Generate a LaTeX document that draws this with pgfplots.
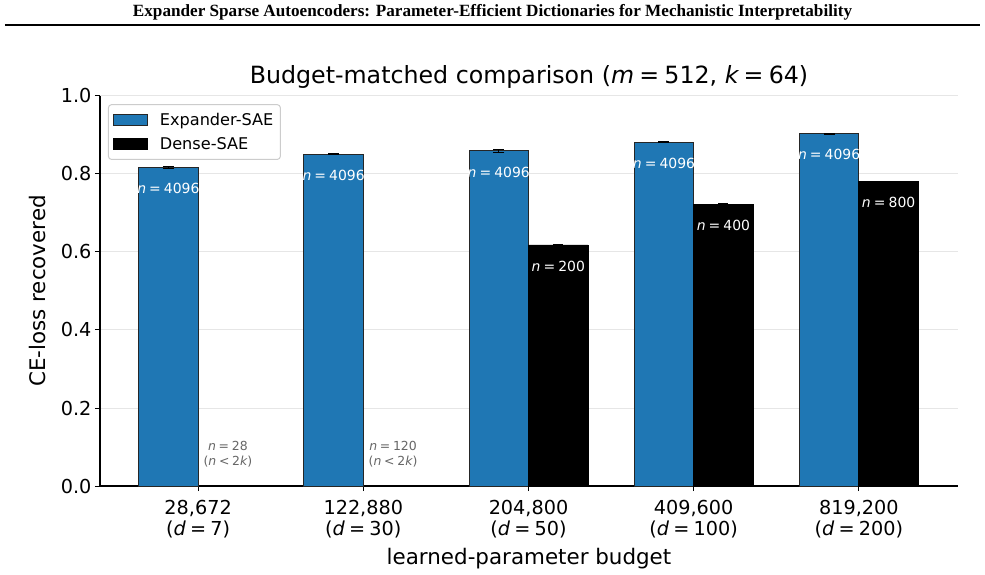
\documentclass[border=0pt]{standalone}
\usepackage{fontspec}
\setmainfont{DejaVu Sans}[ItalicFont={DejaVu Sans Oblique},BoldFont={DejaVu Sans Bold}]
\newfontfamily\headfont{Liberation Serif}[BoldFont={Liberation Serif Bold}]
\usepackage{pgfplots}
\usepackage{pgfplotstable}
\pgfplotsset{compat=1.18}

\definecolor{expblue}{HTML}{1F77B4}
\definecolor{gridgray}{HTML}{E6E6E6}
\definecolor{notegray}{HTML}{666666}
\definecolor{legframe}{HTML}{CCCCCC}

% italic variable = value, spaced like mathtext
\newcommand{\eq}[2]{{\itshape #1}\kern0.22em=\kern0.22em#2}

% CE-loss recovered per parameter budget (x = budget index)
\pgfplotstableread{
x y err
0 0.817 0.003
1 0.851 0.0015
2 0.860 0.004
3 0.881 0.0015
4 0.903 0.0015
}\expander
\pgfplotstableread{
x y err
2 0.618 0.0008
3 0.723 0.0008
4 0.780 0.0008
}\dense

\begin{document}
\begin{tikzpicture}
\useasboundingbox (-100bp,-89bp) rectangle (885bp,486bp);

% running header and rule
\node[anchor=base, inner sep=0pt] at (392.5bp,469bp)
  {\resizebox{719bp}{!}{\headfont\bfseries Expander Sparse Autoencoders: Parameter-Efficient Dictionaries for Mechanistic Interpretability}};
\draw[line width=1.6bp] (-95bp,461bp) -- (880bp,461bp);

\begin{axis}[
  at={(0,0)}, anchor=south west,
  scale only axis, width=858bp, height=390bp,
  xmin=-0.594, xmax=4.6, ymin=0, ymax=1,
  axis lines*=left,
  axis line style={line width=1.1bp, black},
  ybar, bar width=0.36,
  xtick={0,1,2,3,4},
  xticklabels={{28,672\\(\eq{d}{7})},{122,880\\(\eq{d}{30})},{204,800\\(\eq{d}{50})},{409,600\\(\eq{d}{100})},{819,200\\(\eq{d}{200})}},
  xticklabel style={align=center, font=\fontsize{19.3}{21}\selectfont, yshift=-6bp},
  ytick={0,0.2,0.4,0.6,0.8,1},
  yticklabel style={font=\fontsize{19.3}{22}\selectfont},
  /pgf/number format/assume math mode=true,
  /pgf/number format/.cd, fixed, fixed zerofill, precision=1, /pgfplots/.cd,
  tick align=outside, major tick length=5bp,
  tick style={line width=1bp, black},
  ymajorgrids, grid style={gridgray, line width=1bp},
  title={Budget-matched comparison (\eq{m}{512}, \eq{k}{64})},
  title style={at={(axis description cs:0.5,1.034)}, anchor=center, yshift=0pt, font=\fontsize{23.8}{28}\selectfont},
  xlabel={learned-parameter budget},
  xlabel style={at={(axis description cs:0.5,-0.186)}, anchor=center, font=\fontsize{21.5}{25}\selectfont},
  ylabel={CE-loss recovered},
  ylabel style={at={(axis description cs:-0.0723,0.5)}, anchor=center, font=\fontsize{21.5}{25}\selectfont},
  legend style={at={(0.0093,0.979)}, anchor=north west,
    draw=legframe, line width=1bp, rounded corners=3bp,
    fill=white, fill opacity=0.8, text opacity=1,
    font=\fontsize{16.2}{19}\selectfont,
    inner xsep=5bp, inner ysep=6.5bp, row sep=6.5bp},
  legend cell align=left,
]

\addplot[ybar, bar width=0.36, bar shift=-0.18, fill=expblue, draw=black!85, line width=0.8bp,
  legend image code/.code={
    \draw[fill=expblue, draw=black!85, line width=0.8bp, fill opacity=1, draw opacity=1, sharp corners] (0bp,-5.5bp) rectangle (34bp,5.5bp);
    \path[draw=none, fill=none] (44bp,0bp);},
  error bars/.cd, y dir=both, y explicit, error mark=|,
  error bar style={line width=1bp, black},
  error mark options={black, line width=1bp, mark size=5.5bp}]
  table[x=x, y=y, y error=err] {\expander};
\addlegendentry{Expander-SAE}

\addplot[ybar, bar width=0.36, bar shift=0.18, fill=black, draw=black, line width=0.8bp,
  legend image code/.code={
    \draw[fill=black, draw=black, line width=0.8bp, fill opacity=1, draw opacity=1, sharp corners] (0bp,-5.5bp) rectangle (34bp,5.5bp);
    \path[draw=none, fill=none] (44bp,0bp);},
  error bars/.cd, y dir=both, y explicit, error mark=|,
  error bar style={line width=1bp, black},
  error mark options={black, line width=1bp, mark size=5bp}]
  table[x=x, y=y, y error=err] {\dense};
\addlegendentry{Dense-SAE}

% dictionary sizes written inside the bars
\begin{scope}[every node/.style={white, font=\fontsize{14}{16}\selectfont, inner sep=0pt}]
\node at (axis cs:-0.18,0.763) {\eq{n}{4096}};
\node at (axis cs:0.82,0.796) {\eq{n}{4096}};
\node at (axis cs:1.82,0.804) {\eq{n}{4096}};
\node at (axis cs:2.82,0.827) {\eq{n}{4096}};
\node at (axis cs:3.82,0.849) {\eq{n}{4096}};
\node at (axis cs:2.18,0.563) {\eq{n}{200}};
\node at (axis cs:3.18,0.668) {\eq{n}{400}};
\node at (axis cs:4.18,0.726) {\eq{n}{800}};
\end{scope}

% budgets too small for a dense dictionary
\begin{scope}[every node/.style={notegray, align=center, font=\fontsize{12.5}{15}\selectfont, inner sep=0pt}]
\node at (axis cs:0.18,0.081) {\eq{n}{28}\\({\itshape n}\kern0.22em<\kern0.22em2{\itshape k})};
\node at (axis cs:1.18,0.081) {\eq{n}{120}\\({\itshape n}\kern0.22em<\kern0.22em2{\itshape k})};
\end{scope}

\end{axis}
\end{tikzpicture}
\end{document}
